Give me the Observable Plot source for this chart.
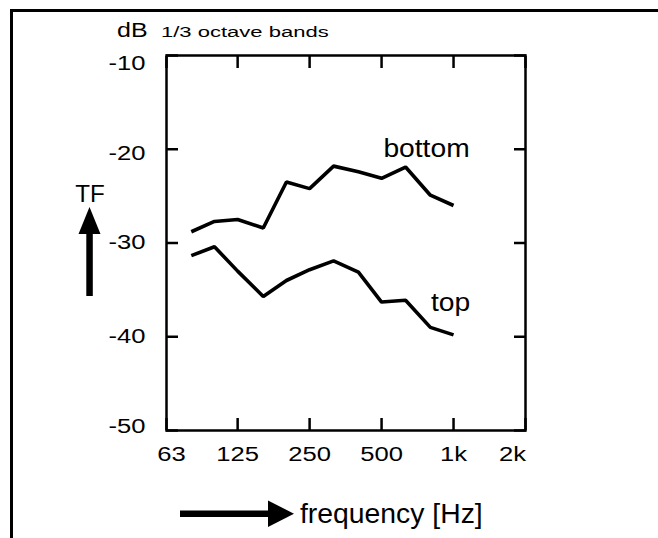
<!DOCTYPE html>
<html><head><meta charset="utf-8">
<script src="https://cdn.jsdelivr.net/npm/d3@7"></script>
<script src="https://cdn.jsdelivr.net/npm/@observablehq/plot@0.6"></script>
<style>
html,body{margin:0;padding:0;background:#fff;}
#wrap{position:relative;width:658px;height:538px;overflow:hidden;font-family:"Liberation Sans",Arial,Helvetica,sans-serif;}
#border{position:absolute;left:10px;top:9px;width:700px;height:600px;border-top:3px solid #000;border-left:3px solid #000;}
#chart{position:absolute;left:0;top:0;}
#overlay{position:absolute;left:0;top:0;}
#overlay text{font-family:"Liberation Sans",Arial,Helvetica,sans-serif;fill:#000;}
</style></head><body>
<div id="wrap">
<div id="border"></div>
<div id="chart"></div>
<svg id="overlay" width="658" height="538">
  <text transform="translate(117,36.5) scale(1.25,1)" font-size="20">dB</text>
  <text transform="translate(161,36.5) scale(1.52,1)" font-size="14.5">1/3 octave bands</text>
  <text transform="translate(90,202) scale(1.05,1)" font-size="23" text-anchor="middle">TF</text>
  <polygon points="78.5,234 100.5,234 89.5,207" fill="#000"/>
  <rect x="86.3" y="233" width="6.5" height="63" fill="#000"/>
  <rect x="180" y="510.5" width="90" height="6.5" fill="#000"/>
  <polygon points="268,500.5 268,527 294,513.7" fill="#000"/>
  <text transform="translate(300,523) scale(1.05,1)" font-size="27">frequency [Hz]</text>
</svg>
</div>
<script>
// 1/3-octave band centre frequencies (Hz)
const freqs = [80, 100, 125, 160, 200, 250, 315, 400, 500, 630, 800, 1000];
// transfer function, dB
const bottomDb = [-28.8, -27.7, -27.5, -28.4, -23.5, -24.2, -21.8, -22.4, -23.1, -21.9, -24.9, -26.0];
const topDb    = [-31.35, -30.4, -33.0, -35.7, -34.0, -32.85, -31.9, -33.1, -36.3, -36.1, -39.0, -39.8];
const seriesNames = ["bottom", "top"];
// axes
const xTicks = [63, 125, 250, 500, 1000, 2000];
const xTickLabels = ["63", "125", "250", "500", "1k", "2k"];
const yTicks = [-10, -20, -30, -40, -50];

const bottomRows = freqs.map((f, i) => ({f, db: bottomDb[i], name: seriesNames[0]}));
const topRows = freqs.map((f, i) => ({f, db: topDb[i], name: seriesNames[1]}));
const xLabelRows = xTicks.map((t, i) => ({f: t, label: xTickLabels[i]}));
const font = '"Liberation Sans", Arial, Helvetica, sans-serif';
const yLab = (ticks, dy) => Plot.axisY(ticks, {anchor: "left", tickSize: 0, tickPadding: 21, dy, fontSize: 20, tickFormat: d => String(d), label: null});
const xLab = (rows, dx) => Plot.text(rows, {x: "f", text: "label", frameAnchor: "bottom", lineAnchor: "top", dy: 16, dx, fontSize: 20, fill: "#000"});

const chart = Plot.plot({
  width: 658, height: 538,
  marginLeft: 166, marginRight: 133, marginTop: 55, marginBottom: 108,
  style: {fontFamily: font, background: "transparent", color: "#000", overflow: "visible"},
  x: {type: "log", domain: [63, 2000]},
  y: {domain: [-50, -10]},
  marks: [
    Plot.line(bottomRows, {x: "f", y: "db", stroke: "#000", strokeWidth: 3.6, strokeLinejoin: "miter", strokeLinecap: "butt"}),
    Plot.line(topRows, {x: "f", y: "db", stroke: "#000", strokeWidth: 3.6, strokeLinejoin: "miter", strokeLinecap: "butt"}),
    Plot.text(bottomRows.slice(-1), {x: "f", y: "db", text: "name", dx: -27, dy: -57, fontSize: 25, fill: "#000"}),
    Plot.text(topRows.slice(-1), {x: "f", y: "db", text: "name", dx: -3, dy: -32, fontSize: 25, fill: "#000"}),
    Plot.axisX(xTicks, {anchor: "bottom", tickSize: -12, strokeWidth: 2.5, tickFormat: () => "", label: null}),
    Plot.axisX(xTicks, {anchor: "top", tickSize: -12, strokeWidth: 2.5, tickFormat: () => "", label: null}),
    // x tick labels (drawn as text at the bottom of the frame)
    xLab(xLabelRows.slice(0, 1), 5),
    xLab(xLabelRows.slice(1, -1), 0),
    xLab(xLabelRows.slice(-1), -13),
    Plot.axisY(yTicks, {anchor: "left", tickSize: -12, strokeWidth: 2.5, tickFormat: () => "", label: null}),
    Plot.axisY(yTicks, {anchor: "right", tickSize: -12, strokeWidth: 2.5, tickFormat: () => "", label: null}),
    yLab(yTicks.slice(0, 1), 8),
    yLab(yTicks.slice(1, 2), 4),
    yLab(yTicks.slice(2, 4), 0),
    yLab(yTicks.slice(4), -4),
    Plot.frame({stroke: "#000", strokeWidth: 2.5})
  ]
});
document.getElementById("chart").appendChild(chart);

// widen glyphs horizontally like the original lettering (scale about each label's anchor point)
d3.select(chart).selectAll("text").each(function () {
  const txt = this.textContent;
  if (!txt) return;
  const s = seriesNames.includes(txt) ? 1.13 : 1.28;
  const xs = this.x && this.x.baseVal, ys = this.y && this.y.baseVal;
  const x = xs && xs.numberOfItems ? xs.getItem(0).value : 0;
  const y = ys && ys.numberOfItems ? ys.getItem(0).value : 0;
  if (!isFinite(x) || !isFinite(y)) return;
  const t = this.getAttribute("transform") || "";
  this.removeAttribute("x"); this.removeAttribute("y");
  this.setAttribute("transform", `${t} translate(${x},${y}) scale(${s},1)`.trim());
});
</script>
</body></html>
